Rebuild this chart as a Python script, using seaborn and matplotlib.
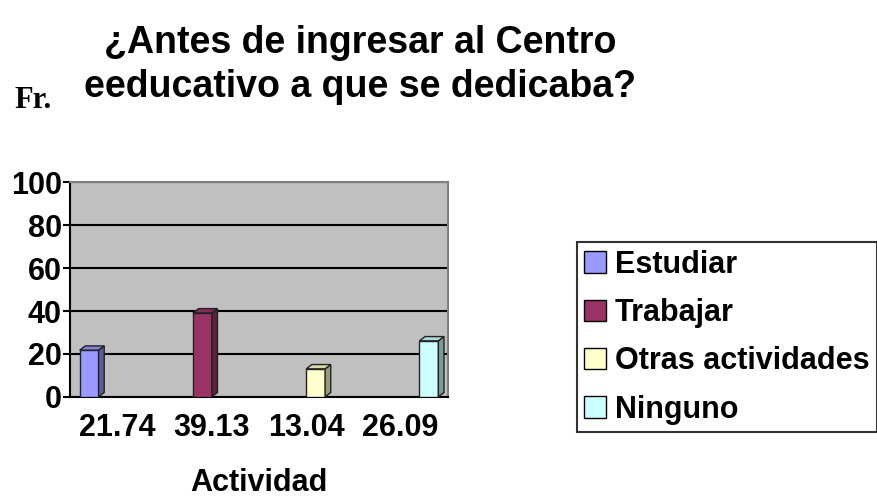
import pandas as pd
import matplotlib.pyplot as plt
import seaborn as sns
from matplotlib.patches import Patch, Polygon
from matplotlib.colors import to_rgb

# values
actividades = ["Estudiar", "Trabajar", "Otras actividades", "Ninguno"]
porcentajes = [21.74, 39.13, 13.04, 26.09]
etiquetas_x = ["21.74", "39.13", "13.04", "26.09"]
colores = ["#9999FF", "#993366", "#FFFFCC", "#CCFFFF"]

# Excel-style clustered layout: each category holds one series
df = pd.DataFrame({
    "categoria": etiquetas_x,
    "actividad": actividades,
    "fr": porcentajes,
})

sns.set_style("white")
plt.rcParams["font.family"] = ["Liberation Sans", "DejaVu Sans"]
plt.rcParams["font.weight"] = "bold"
plt.rcParams["text.color"] = "black"
plt.rcParams["xtick.color"] = "black"
plt.rcParams["ytick.color"] = "black"
plt.rcParams["axes.labelcolor"] = "black"

fig = plt.figure(figsize=(8.78, 5.01), dpi=100)
ax = fig.add_axes([0.08, 0.208, 0.43, 0.428])

sns.barplot(data=df, x="categoria", y="fr", hue="actividad",
            hue_order=actividades, order=etiquetas_x, palette=colores,
            saturation=1, dodge=True, width=0.8, edgecolor="#222222",
            linewidth=1, legend=False, ax=ax, zorder=3)

# fake 3d depth on each bar (side + top faces), like the old excel chart
dx, dy = 0.06, 2.0
for bar in list(ax.patches):
    h = bar.get_height()
    if h <= 0:
        continue
    x0 = bar.get_x()
    x1 = x0 + bar.get_width()
    r, g, b = to_rgb(bar.get_facecolor())
    side = Polygon([(x1, 0), (x1 + dx, dy), (x1 + dx, h + dy), (x1, h)],
                   closed=True, facecolor=(r * 0.6, g * 0.6, b * 0.6),
                   edgecolor="#222222", linewidth=1, zorder=3)
    top = Polygon([(x0, h), (x0 + dx, h + dy), (x1 + dx, h + dy), (x1, h)],
                  closed=True, facecolor=(r * 0.85, g * 0.85, b * 0.85),
                  edgecolor="#222222", linewidth=1, zorder=3)
    ax.add_patch(side)
    ax.add_patch(top)

ax.set_facecolor("#C0C0C0")
ax.set_ylim(0, 100)
ax.set_yticks([0, 20, 40, 60, 80, 100])
ax.yaxis.grid(True, color="black", linewidth=1.5, zorder=0)
ax.set_axisbelow(True)
ax.tick_params(axis="y", labelsize=22, length=5, width=1.5, left=True,
               color="black", pad=1)
ax.tick_params(axis="x", labelsize=22, length=0, pad=12)
for s in ["top", "right"]:
    ax.spines[s].set_color("#808080")
    ax.spines[s].set_linewidth(1.5)
for s in ["left", "bottom"]:
    ax.spines[s].set_color("black")
    ax.spines[s].set_linewidth(1.5)
ax.set_xlabel("Actividad", fontsize=22, fontweight="bold", labelpad=18)
ax.set_ylabel("")

fig.text(0.41, 0.87, "¿Antes de ingresar al Centro\needucativo a que se dedicaba?",
         ha="center", va="center", fontsize=27, fontweight="bold",
         linespacing=1.3)
fig.text(0.016, 0.785, "Fr.", fontsize=22, fontweight="bold",
         family="Liberation Serif")

handles = [Patch(facecolor=c, edgecolor="black", label=a)
           for a, c in zip(actividades, colores)]
leg = fig.legend(handles=handles, loc="upper left",
                 bbox_to_anchor=(0.657, 0.517), fontsize=22,
                 frameon=True, fancybox=False, edgecolor="black",
                 handlelength=0.7, handleheight=0.7, handletextpad=0.3,
                 labelspacing=0.6, borderpad=0.25, borderaxespad=0)
leg.get_frame().set_linewidth(1.5)

fig.savefig("out.png", dpi=100)
